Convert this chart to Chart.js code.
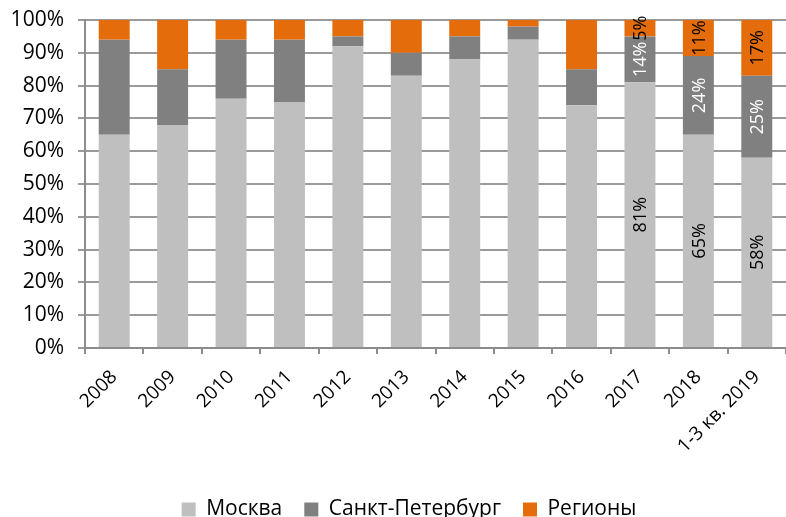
<!DOCTYPE html>
<html>
<head>
<meta charset="utf-8">
<script src="https://cdn.jsdelivr.net/npm/chart.js@4.4.0/dist/chart.umd.min.js"></script>
<style>
  html, body { margin: 0; padding: 0; background: #fff; }
  #wrap { width: 786px; height: 517px; position: relative; }
</style>
</head>
<body>
<div id="wrap"><canvas id="chart"></canvas></div>
<script>
// Chart data
const categories = ['2008', '2009', '2010', '2011', '2012', '2013', '2014', '2015', '2016', '2017', '2018', '1-3 кв. 2019'];
const moscow = [65, 68, 76, 75, 92, 83, 88, 94, 74, 81, 65, 58];
const spb = [29, 17, 18, 19, 3, 7, 7, 4, 11, 14, 24, 25];
const regions = [6, 15, 6, 6, 5, 10, 5, 2, 15, 5, 11, 17];
const showLabel = [false, false, false, false, false, false, false, false, false, true, true, true];
const yTicks = [0, 10, 20, 30, 40, 50, 60, 70, 80, 90, 100];

const FONT = "'Open Sans', 'Liberation Sans', sans-serif";

// draws the rotated value labels inside the bars
const barLabels = {
    id: 'barLabels',
    afterDatasetsDraw(chart) {
        const ctx = chart.ctx;
        ctx.save();
        ctx.font = '18px ' + FONT;
        ctx.textAlign = 'center';
        ctx.textBaseline = 'middle';
        chart.data.datasets.forEach((ds, di) => {
            const meta = chart.getDatasetMeta(di);
            meta.data.forEach((bar, i) => {
                if (!showLabel[i]) return;
                const cy = (bar.y + bar.base) / 2;
                ctx.save();
                ctx.translate(bar.x, cy);
                ctx.rotate(-Math.PI / 2);
                ctx.fillStyle = ds.labelColor;
                ctx.fillText(ds.data[i] + '%', 0, 1);
                ctx.restore();
            });
        });
        ctx.restore();
    }
};

// legend in the original sits a bit right of centre
const legendShift = {
    id: 'legendShift',
    afterLayout(chart) {
        chart.legend.left += 16;
        chart.legend.right += 16;
    }
};

new Chart(document.getElementById('chart'), {
    type: 'bar',
    data: {
        labels: categories,
        datasets: [
            { label: 'Москва', data: moscow, backgroundColor: '#bfbfbf', labelColor: '#000' },
            { label: 'Санкт-Петербург', data: spb, backgroundColor: '#808080', labelColor: '#fff' },
            { label: 'Регионы', data: regions, backgroundColor: '#e46c0a', labelColor: '#000' }
        ]
    },
    options: {
        responsive: true,
        maintainAspectRatio: false,
        animation: false,
        datasets: { bar: { categoryPercentage: 1, barPercentage: 0.53 } },
        layout: { padding: { top: 20, right: 0, left: 0, bottom: -13 } },
        plugins: {
            legend: {
                position: 'bottom',
                labels: {
                    boxWidth: 14,
                    boxHeight: 14,
                    padding: 22,
                    color: '#000',
                    font: { family: FONT, size: 21 }
                }
            },
            tooltip: { enabled: false }
        },
        scales: {
            x: {
                stacked: true,
                grid: { display: true, drawOnChartArea: false, drawTicks: true, tickLength: 6, color: '#8c8c8c', lineWidth: 2, offset: true },
                border: { color: '#8c8c8c', width: 2 },
                ticks: { color: '#000', font: { family: FONT, size: 19 }, maxRotation: 45, minRotation: 45, padding: 12 },
                afterFit(scale) { scale.height = 129; }
            },
            y: {
                stacked: true,
                min: 0,
                max: 100,
                afterBuildTicks(scale) { scale.ticks = yTicks.map(v => ({ value: v })); },
                grid: { color: '#9a9a9a', lineWidth: 2, tickLength: 7 },
                border: { color: '#8c8c8c', width: 2 },
                ticks: { color: '#000', font: { family: FONT, size: 21 }, padding: 14, callback: v => v + '%' },
                afterFit(scale) {
                    scale.width = 85;
                    scale.paddingTop = 0;
                    scale.paddingBottom = 0;
                }
            }
        }
    },
    plugins: [barLabels, legendShift]
});
</script>
</body>
</html>
